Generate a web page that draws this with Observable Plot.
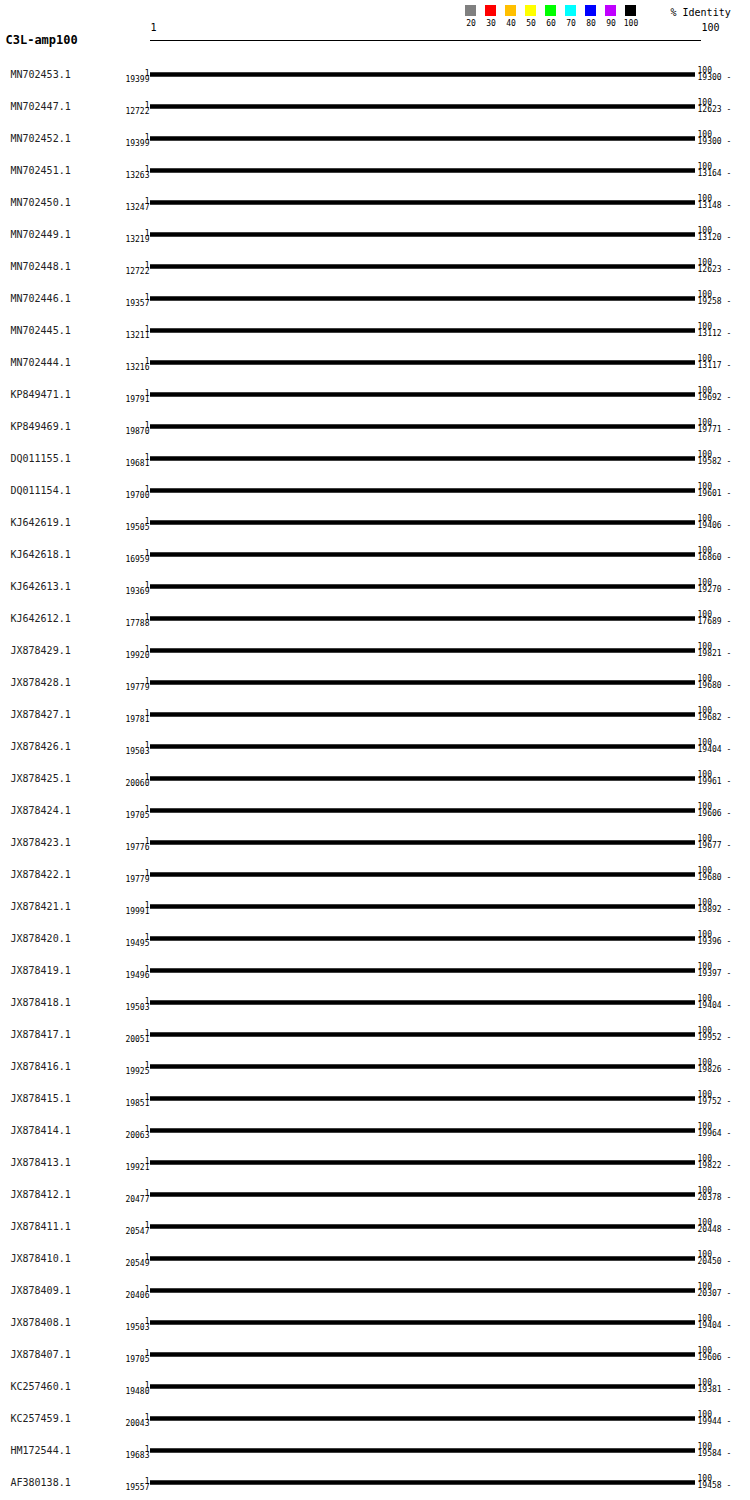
<!DOCTYPE html>
<html><head><meta charset="utf-8">
<script src="https://cdn.jsdelivr.net/npm/d3@7"></script>
<script src="https://cdn.jsdelivr.net/npm/@observablehq/plot@0.6"></script>
<style>
body{margin:0;background:#fff;}
#wrap{position:relative;width:750px;height:1500px;overflow:hidden;}
#wrap svg{position:absolute;top:0;left:0;}
</style></head><body><div id="wrap"></div>
<script>
const chartTitle = "C3L-amp100";
const accessions = ["MN702453.1","MN702447.1","MN702452.1","MN702451.1","MN702450.1","MN702449.1","MN702448.1","MN702446.1","MN702445.1","MN702444.1","KP849471.1","KP849469.1","DQ011155.1","DQ011154.1","KJ642619.1","KJ642618.1","KJ642613.1","KJ642612.1","JX878429.1","JX878428.1","JX878427.1","JX878426.1","JX878425.1","JX878424.1","JX878423.1","JX878422.1","JX878421.1","JX878420.1","JX878419.1","JX878418.1","JX878417.1","JX878416.1","JX878415.1","JX878414.1","JX878413.1","JX878412.1","JX878411.1","JX878410.1","JX878409.1","JX878408.1","JX878407.1","KC257460.1","KC257459.1","HM172544.1","AF380138.1"];
const startCoords = [19399,12722,19399,13263,13247,13219,12722,19357,13211,13216,19791,19870,19681,19700,19505,16959,19369,17788,19920,19779,19781,19503,20060,19705,19776,19779,19991,19495,19496,19503,20051,19925,19851,20063,19921,20477,20547,20549,20406,19503,19705,19480,20043,19683,19557];
const endCoords = [19300,12623,19300,13164,13148,13120,12623,19258,13112,13117,19692,19771,19582,19601,19406,16860,19270,17689,19821,19680,19682,19404,19961,19606,19677,19680,19892,19396,19397,19404,19952,19826,19752,19964,19822,20378,20448,20450,20307,19404,19606,19381,19944,19584,19458];
const identities = accessions.map(() => 100);
const alignStart = 1;
const alignEnd = 100;
const legendLevels = ["20","30","40","50","60","70","80","90","100"];
const legendColors = ["#808080","#ff0000","#ffc000","#ffff00","#00ff00","#00ffff","#0000ff","#c000ff","#000000"];
const legendTitle = "% Identity";

const rows = accessions.map((name, i) => ({
  name, start: startCoords[i], end: endCoords[i], identity: String(identities[i]),
  x1: alignStart, x2: alignEnd
}));

const font = "DejaVu Sans Mono";
const main = Plot.plot({
  width: 750, height: 1500, margin: 0,
  style: {fontFamily: font, fontSize: "10px", background: "transparent", overflow: "visible"},
  x: {domain: [alignStart, alignEnd], range: [150, 695], axis: null},
  y: {type: "point", domain: accessions, range: [74, 1482], padding: 0, axis: null},
  color: {type: "ordinal", domain: legendLevels, range: legendColors},
  marks: [
    Plot.text([chartTitle], {frameAnchor: "top-left", dx: 5, dy: 43, lineAnchor: "bottom", fontSize: 12, fontWeight: "bold", fill: "#000"}),
    Plot.frame({anchor: "top", insetTop: 40, insetLeft: 150, insetRight: 50, stroke: "#000"}),
    Plot.text([alignStart], {x: d => d, text: d => String(d), frameAnchor: "top", dy: 30, lineAnchor: "bottom", textAnchor: "start", fontSize: 10}),
    Plot.text([alignEnd], {x: d => d, text: d => String(d), frameAnchor: "top", dy: 30, dx: 6, lineAnchor: "bottom", textAnchor: "start", fontSize: 10}),
    Plot.text(rows, {y: "name", text: "name", frameAnchor: "left", dx: 10, dy: 3.5, lineAnchor: "bottom", textAnchor: "start", fontSize: 10, fill: "#222"}),
    Plot.ruleY(rows, {y: "name", x1: "x1", x2: "x2", stroke: "identity", strokeWidth: 4.5}),
    Plot.text(rows, {y: "name", x: "x1", text: d => String(alignStart), dx: -1, dy: 1, lineAnchor: "bottom", textAnchor: "end", fontSize: 8}),
    Plot.text(rows, {y: "name", x: "x1", text: d => String(d.start), dx: -1, dy: 7.5, lineAnchor: "bottom", textAnchor: "end", fontSize: 8}),
    Plot.text(rows, {y: "name", x: "x2", text: d => String(alignEnd), dx: 2, dy: -1.5, lineAnchor: "bottom", textAnchor: "start", fontSize: 8}),
    Plot.text(rows, {y: "name", x: "x2", text: d => d.end + " -", dx: 2, dy: 5, lineAnchor: "bottom", textAnchor: "start", fontSize: 8})
  ]
});

const legend = Plot.plot({
  width: 310, height: 34, margin: 0,
  style: {fontFamily: font, fontSize: "8px", background: "transparent", overflow: "visible"},
  x: {type: "band", domain: legendLevels, range: [25, 196], paddingInner: 0.45, paddingOuter: 0, axis: null},
  y: {type: "band", domain: ["key"], range: [5, 16], padding: 0, axis: null},
  color: {type: "ordinal", domain: legendLevels, range: legendColors},
  marks: [
    Plot.cell(legendLevels, {x: d => d, y: () => "key", fill: d => d}),
    Plot.text(legendLevels, {x: d => d, text: d => d, frameAnchor: "top", dy: 25, lineAnchor: "bottom", fontSize: 8}),
    Plot.text([legendTitle], {frameAnchor: "top-left", dx: 230, dy: 15, lineAnchor: "bottom", textAnchor: "start", fontSize: 10})
  ]
});
legend.style.left = "440px";

const wrap = document.getElementById("wrap");
wrap.appendChild(main);
wrap.appendChild(legend);
</script></body></html>
